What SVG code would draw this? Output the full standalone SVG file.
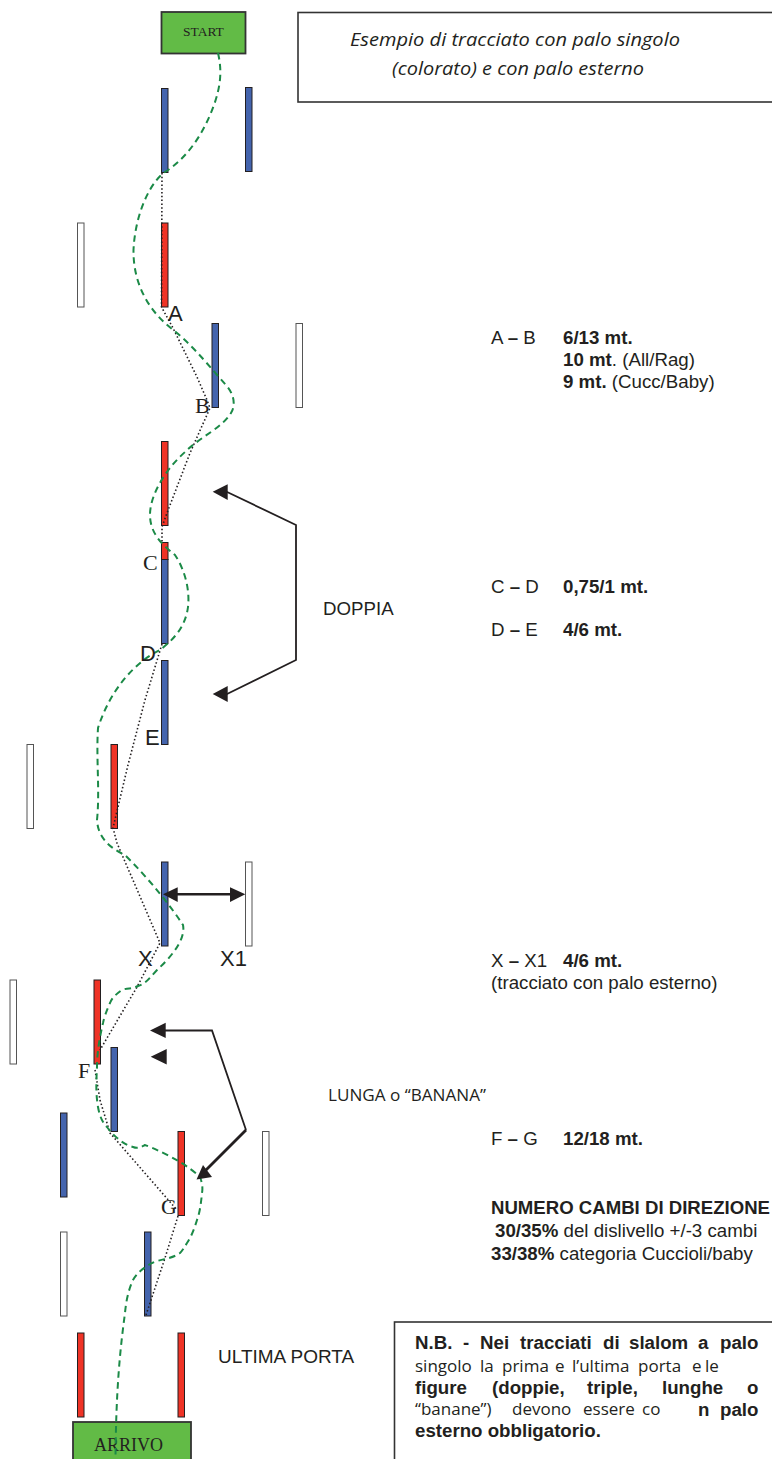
<svg xmlns="http://www.w3.org/2000/svg" width="772" height="1459" viewBox="0 0 772 1459">
<style>
.p{stroke:#231f20;stroke-width:1;}
.b{fill:#4464ad}.r{fill:#ef3326}.w{fill:#fff;stroke:#555}
.box{fill:#fff;stroke:#333;stroke-width:1.6}
.g{fill:#62bb46;stroke:#333;stroke-width:1.8}
.t{font-family:"Liberation Sans",Arial,sans-serif;fill:#231f20}
.s{font-family:"Liberation Serif","Times New Roman",serif;fill:#231f20}
.m{font-family:"Open Sans","Noto Sans",sans-serif;fill:#231f20}
.l{font-size:22px}
.n{font-size:18.7px}
.bd{font-weight:700}
.h{fill:#231f20;stroke:none}
</style>
<g id="title-box"><rect class="box" x="298" y="12.5" width="490" height="89.5"/>
<text class="m" font-style="italic" font-size="19" x="350" y="46" textLength="330" lengthAdjust="spacingAndGlyphs">Esempio di tracciato con palo singolo</text>
<text class="m" font-style="italic" font-size="19" x="392" y="75" textLength="252" lengthAdjust="spacingAndGlyphs">(colorato) e con palo esterno</text></g>
<g id="start"><rect class="g" x="161.5" y="12" width="84" height="41.5"/><text class="s" font-size="13.500" x="183" y="36">START</text></g>
<g id="arrivo"><rect class="g" x="73" y="1422" width="118" height="50"/><text class="s" font-size="18" x="94" y="1451">ARRIVO</text></g>
<g id="poles">
<rect class="p b" x="161.5" y="88.5" width="6.5" height="84"/><rect class="p b" x="245.5" y="87.5" width="6.5" height="84"/>
<rect class="p w" x="77.5" y="223" width="6.5" height="84"/><rect class="p r" x="161.5" y="223" width="6.5" height="84"/>
<rect class="p b" x="212" y="323.5" width="6.5" height="84"/><rect class="p w" x="296" y="323.5" width="6.5" height="84"/>
<rect class="p r" x="161.5" y="441.5" width="6.5" height="84"/>
<rect class="p r" x="161.5" y="542.5" width="6.5" height="17"/><rect class="p b" x="161.5" y="559.5" width="6.5" height="84"/>
<rect class="p b" x="161.5" y="660.5" width="6.5" height="84"/>
<rect class="p w" x="27" y="744.5" width="6.5" height="84"/><rect class="p r" x="111" y="744.5" width="6.5" height="84"/>
<rect class="p b" x="161.5" y="862" width="6.5" height="84"/><rect class="p w" x="245.5" y="862" width="6.5" height="84"/>
<rect class="p w" x="10" y="980" width="6.5" height="84"/><rect class="p r" x="94" y="980" width="6.5" height="84"/>
<rect class="p b" x="111" y="1047.5" width="6.5" height="84"/>
<rect class="p b" x="60.5" y="1113" width="6.5" height="84"/>
<rect class="p r" x="178" y="1131.5" width="6.5" height="84"/><rect class="p w" x="262.5" y="1131.5" width="6.5" height="84"/>
<rect class="p w" x="60.5" y="1232" width="6.5" height="84"/><rect class="p b" x="144.5" y="1232" width="6.5" height="84"/>
<rect class="p r" x="77.5" y="1333" width="6.5" height="84"/><rect class="p r" x="178" y="1333" width="6.5" height="84"/>
</g>
<g id="connectors" fill="none">
<path stroke="#231f20" stroke-width="1.600" stroke-dasharray="1.500 2.300" d="M162 173L161.500 307L173 328L197 377L207 400L210 408L190 453L167 513L162 527L162 542M162 644L145 700L128 765L113 828L117 843L160 943L137 987L100 1050M95 1070L100 1100L110 1133L177 1210M178 1216L165 1258L146 1315"/>
<path stroke="#1b8a47" stroke-width="2" stroke-dasharray="6.500 4.500" d="M218 53C222 70 221 85 214 105C205 130 190 155 168 170C150 180 135 215 133.500 250C133 285 150 312 172 329C195 347 212 370 226 385C234 394 236 405 231 413C222 428 200 437 185 452C165 470 150 495 150 515C150 535 165 547 175 555C185 570 190 590 188 607C185 630 170 642 160 650C135 662 110 690 98 728C96 760 100 790 97 820C98 838 110 848 125 855C150 880 170 905 183 925C186 940 170 958 157 970C148 980 145 984 138 986C130 990 125 988 122 990C115 995 112 998 110 1003C106 1012 104 1018 103 1023C99 1040 97 1055 97 1067C96 1085 96 1095 98 1107C100 1118 103 1123 107 1127C115 1138 125 1145 133 1147C138 1149 141 1147 145 1145C158 1150 170 1156 180 1162C188 1167 195 1172 200 1177C202 1182 203 1188 202 1193C201 1203 200 1212 197 1220C194 1230 191 1237 187 1243C184 1248 182 1251 180 1253C172 1259 160 1259 152 1263C143 1268 137 1273 133 1280C128 1291 126 1302 125 1313C120 1350 116 1390 115.500 1459"/>
<path stroke="#231f20" stroke-width="1.800" d="M225 491L296 525V660L225 695"/>
<path class="h" d="M212.700 491.700L227.700 484.300V500Z M212.700 694L227.700 686V702Z"/>
<path stroke="#231f20" stroke-width="2.400" d="M170 894.300H238"/>
<path class="h" d="M163 894.300L177.700 887.300V902Z M245.300 894.300L230 887.300V902Z"/>
<path stroke="#231f20" stroke-width="1.800" d="M160 1030.500H212L246 1130"/>
<path stroke="#231f20" stroke-width="2.800" d="M246 1130L203 1173"/>
<path class="h" d="M196.500 1179.500L203 1165L212 1177Z"/>
<path class="h" d="M150 1030.500L165.700 1022.700V1038Z M150.700 1056.700L166.700 1049V1064.500Z"/>
</g>
<g id="labels">
<text class="t l" x="168" y="321">A</text><text class="s l" x="195" y="413">B</text>
<text class="s l" x="143" y="570">C</text><text class="t l" x="140" y="661">D</text>
<text class="t l" x="145" y="745">E</text><text class="t l" x="138" y="966">X</text>
<text class="t l" x="220" y="966">X1</text><text class="s l" x="78" y="1078">F</text>
<text class="s l" x="161" y="1214">G</text>
<text class="t n" x="323" y="614.500">DOPPIA</text>
<text class="m" font-size="16.500" x="328" y="1101" textLength="158" lengthAdjust="spacingAndGlyphs">LUNGA o “BANANA”</text>
<text class="t" font-size="19" x="218" y="1363">ULTIMA PORTA</text>
</g>
<g id="notes">
<text class="t n" x="491" y="344">A <tspan class="bd">–</tspan> B</text><text class="t n bd" x="563" y="344">6/13 mt.</text>
<text class="t n" x="563" y="366"><tspan class="bd">10 mt</tspan>. (All/Rag)</text>
<text class="t n" x="563" y="388"><tspan class="bd">9 mt.</tspan> (Cucc/Baby)</text>
<text class="t n" x="491" y="592.500">C <tspan class="bd">–</tspan> D</text><text class="t n bd" x="563" y="592.500">0,75/1 mt.</text>
<text class="t n" x="491" y="635.500">D <tspan class="bd">–</tspan> E</text><text class="t n bd" x="563" y="635.500">4/6 mt.</text>
<text class="t n" x="491" y="967">X <tspan class="bd">–</tspan> X1</text><text class="t n bd" x="563" y="967">4/6 mt.</text>
<text class="t n" x="491" y="989">(tracciato con palo esterno)</text>
<text class="t n" x="491" y="1144.500">F <tspan class="bd">–</tspan> G</text><text class="t n bd" x="563" y="1144.500">12/18 mt.</text>
<text class="t n bd" x="491" y="1213.500" textLength="279" lengthAdjust="spacingAndGlyphs">NUMERO CAMBI DI DIREZIONE</text>
<text class="t n" x="495" y="1236.500"><tspan class="bd">30/35%</tspan> del dislivello +/-3 cambi</text>
<text class="t n" x="491" y="1259.500"><tspan class="bd">33/38%</tspan> categoria Cuccioli/baby</text>
</g>
<g id="nb-box"><rect class="box" x="394.500" y="1322" width="400" height="160"/>
<text class="t n bd" y="1348.500"><tspan x="415">N.B.</tspan><tspan x="463">-</tspan><tspan x="480">Nei</tspan><tspan x="520">tracciati</tspan><tspan x="603">di</tspan><tspan x="629">slalom</tspan><tspan x="698">a</tspan><tspan x="720">palo</tspan></text>
<text class="m" font-size="17" y="1372"><tspan x="415">singolo</tspan><tspan x="480">la</tspan><tspan x="502">prima</tspan><tspan x="555">e</tspan><tspan x="572">l’ultima</tspan><tspan x="638">porta</tspan><tspan x="692">e</tspan><tspan x="705">le</tspan></text>
<text class="t n bd" y="1393.500"><tspan x="415">figure</tspan><tspan x="492">(doppie,</tspan><tspan x="587">triple,</tspan><tspan x="662">lunghe</tspan><tspan x="747">o</tspan></text>
<text class="m" font-size="17" y="1415"><tspan x="415">“banane”)</tspan><tspan x="512">devono</tspan><tspan x="583">essere</tspan><tspan x="642">co</tspan></text>
<text class="t n bd" y="1415.500"><tspan x="698">n</tspan><tspan x="720">palo</tspan></text>
<text class="t n bd" x="415" y="1436.500">esterno obbligatorio.</text>
</g>
</svg>
